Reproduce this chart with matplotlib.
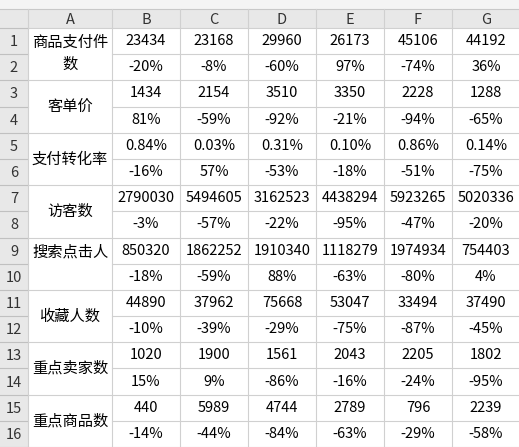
import matplotlib
matplotlib.use("Agg")
import matplotlib.pyplot as plt
from matplotlib.patches import Rectangle

plt.rcParams['font.family'] = ['Noto Sans CJK SC', 'DejaVu Sans']

col_letters = ["A", "B", "C", "D", "E", "F", "G"]
# second line of a wrapped label; "搜索点击人数" shows only its first line in the cell
labels = ["商品支付件\n数", "客单价", "支付转化率", "访客数", "搜索点击人\n", "收藏人数", "重点卖家数", "重点商品数"]
values = [
    ["23434", "23168", "29960", "26173", "45106", "44192"],
    ["1434", "2154", "3510", "3350", "2228", "1288"],
    ["0.84%", "0.03%", "0.31%", "0.10%", "0.86%", "0.14%"],
    ["2790030", "5494605", "3162523", "4438294", "5923265", "5020336"],
    ["850320", "1862252", "1910340", "1118279", "1974934", "754403"],
    ["44890", "37962", "75668", "53047", "33494", "37490"],
    ["1020", "1900", "1561", "2043", "2205", "1802"],
    ["440", "5989", "4744", "2789", "796", "2239"],
]
changes = [
    ["-20%", "-8%", "-60%", "97%", "-74%", "36%"],
    ["81%", "-59%", "-92%", "-21%", "-94%", "-65%"],
    ["-16%", "57%", "-53%", "-18%", "-51%", "-75%"],
    ["-3%", "-57%", "-22%", "-95%", "-47%", "-20%"],
    ["-18%", "-59%", "88%", "-63%", "-80%", "4%"],
    ["-10%", "-39%", "-29%", "-75%", "-87%", "-45%"],
    ["15%", "9%", "-86%", "-16%", "-24%", "-95%"],
    ["-14%", "-44%", "-84%", "-63%", "-29%", "-58%"],
]

W, H = 519, 447
fig = plt.figure(figsize=(W / 100, H / 100), dpi=100)
ax = fig.add_axes([0, 0, 1, 1])
ax.set_xlim(0, W); ax.set_ylim(H, 0); ax.axis("off")

top_bar, hdr_bot = 9, 28
rh = (H - hdr_bot) / 16.0
xs = [0, 28, 112] + [112 + 68 * (i + 1) for i in range(6)]
grid_c = "#d0d0d0"
fs = 10.5

# header background
ax.add_patch(Rectangle((0, top_bar), W, hdr_bot - top_bar, fc="#e8e8e8", ec="none"))
ax.add_patch(Rectangle((0, hdr_bot), 28, H - hdr_bot, fc="#e8e8e8", ec="none"))
ax.add_patch(Rectangle((0, 0), W, top_bar, fc="#f4f4f4", ec="none"))
ax.plot([0, W], [top_bar, top_bar], c="#c8c8c8", lw=0.8)

for i, L in enumerate(col_letters):
    ax.text((xs[i + 1] + xs[i + 2]) / 2, (top_bar + hdr_bot) / 2 + 1, L, ha="center", va="center", fontsize=fs, color="#333")

for r in range(17):
    y = hdr_bot + r * rh
    ax.plot([0, 28], [y, y], c="#c0c0c0", lw=0.8)
    if r % 2 == 1:
        ax.plot([112, W], [y, y], c=grid_c, lw=0.8)
    else:
        ax.plot([28, W], [y, y], c=grid_c, lw=0.8)
    if r < 16:
        ax.text(14, y + rh / 2 + 1, str(r + 1), ha="center", va="center", fontsize=fs, color="#333")
for x in xs[1:]:
    ax.plot([x, x], [top_bar, H], c=grid_c, lw=0.8)

for k, lab in enumerate(labels):
    ytop = hdr_bot + 2 * k * rh
    if "\n" in lab:
        a, b = lab.split("\n")
        ax.text(70, ytop + rh * 0.55, a, ha="center", va="center", fontsize=fs + 0.5)
        if b:
            ax.text(70, ytop + rh * 1.4, b, ha="center", va="center", fontsize=fs + 0.5)
    else:
        ax.text(70, ytop + rh, lab, ha="center", va="center", fontsize=fs + 0.5)
    for j in range(6):
        cx = (xs[j + 2] + xs[j + 3]) / 2
        ax.text(cx, ytop + rh / 2, values[k][j], ha="center", va="center", fontsize=fs)
        ax.text(cx, ytop + rh * 1.5, changes[k][j], ha="center", va="center", fontsize=fs)

fig.savefig("out.png", dpi=100)
